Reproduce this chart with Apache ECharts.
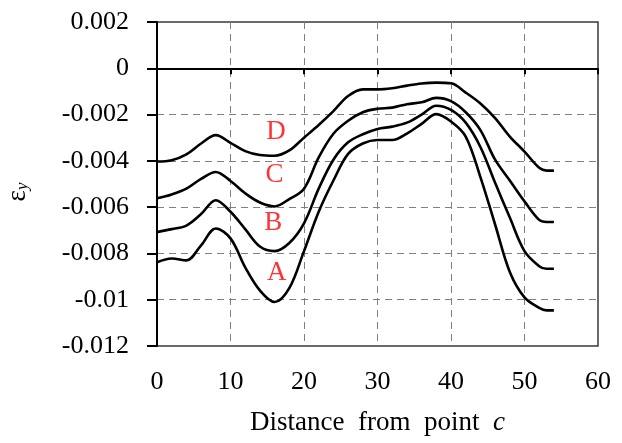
<!DOCTYPE html>
<html>
<head>
<meta charset="utf-8">
<script src="https://cdn.jsdelivr.net/npm/echarts@6/dist/echarts.min.js"></script>
<style>
  html, body { margin: 0; padding: 0; background: #fff; }
  #chart { width: 622px; height: 443px; }
</style>
</head>
<body>
<div id="chart"></div>
<script>
// Distance from point c (shared sampling positions for all four curves)
const distance = [0, 2, 4, 6, 8, 10, 12, 14, 16, 18, 20, 22, 24, 26, 28, 30, 32, 34, 36, 38, 40, 42, 44, 46, 48, 50, 52, 53, 54];

// Strain εy along each line
const strainD = [-0.00403, -0.00397, -0.00372, -0.00325, -0.00289, -0.00322, -0.00358, -0.00375, -0.00378, -0.00355, -0.00300, -0.00245, -0.00185, -0.00120, -0.00091, -0.00091, -0.00086, -0.00075, -0.00066, -0.00062, -0.00065, -0.00105, -0.00152, -0.00215, -0.00295, -0.00360, -0.00430, -0.00442, -0.00442];
const strainC = [-0.00562, -0.00545, -0.00520, -0.00478, -0.00448, -0.00487, -0.00540, -0.00580, -0.00597, -0.00565, -0.00520, -0.00385, -0.00283, -0.00227, -0.00190, -0.00175, -0.00170, -0.00155, -0.00147, -0.00128, -0.00142, -0.00190, -0.00267, -0.00395, -0.00485, -0.00575, -0.00655, -0.00664, -0.00664];
const strainB = [-0.00708, -0.00695, -0.00680, -0.00630, -0.00570, -0.00620, -0.00695, -0.00770, -0.00790, -0.00755, -0.00670, -0.00520, -0.00395, -0.00320, -0.00285, -0.00262, -0.00252, -0.00235, -0.00200, -0.00162, -0.00180, -0.00235, -0.00340, -0.00495, -0.00645, -0.00790, -0.00855, -0.00866, -0.00866];
const strainA = [-0.00838, -0.00822, -0.00830, -0.00765, -0.00692, -0.00735, -0.00860, -0.00960, -0.01010, -0.00950, -0.00790, -0.00620, -0.00485, -0.00370, -0.00325, -0.00310, -0.00310, -0.00282, -0.00240, -0.00198, -0.00230, -0.00295, -0.00470, -0.00675, -0.00880, -0.00990, -0.01035, -0.01046, -0.01046];

// Curve names and where their letters sit (data coordinates)
const curveNames = ['D', 'C', 'B', 'A'];
const labelDistance = [16.2, 16.0, 15.8, 16.3];
const labelStrain = [-0.00276, -0.00462, -0.00670, -0.00886];

// Axis ranges
const xMin = 0, xMax = 60, xStep = 10;
const yMin = -0.012, yMax = 0.002, yStep = 0.002;

const serif = 'Liberation Serif';
const curves = [strainD, strainC, strainB, strainA];

const lineSeries = curves.map((vals, i) => ({
  name: curveNames[i],
  type: 'line',
  xAxisIndex: 0,
  yAxisIndex: 0,
  data: distance.map((d, k) => [d, vals[k]]),
  showSymbol: false,
  smooth: 0.35,
  lineStyle: { color: '#000', width: 2.6 },
  z: 5
}));

const letterSeries = {
  name: 'curveLabels',
  type: 'scatter',
  data: curveNames.map((n, i) => [labelDistance[i], labelStrain[i], n]),
  symbolSize: 0,
  label: {
    show: true,
    position: 'inside',
    formatter: p => p.data[2],
    color: '#ff0000',
    fontFamily: serif,
    fontSize: 27
  },
  silent: true,
  z: 6
};

const chart = echarts.init(document.getElementById('chart'), null, { renderer: 'canvas' });
chart.setOption({
  animation: false,
  backgroundColor: '#fff',
  grid: {
    left: 157, right: 24, top: 22, bottom: 97,
    outerBoundsMode: 'none',
    containLabel: false,
    show: true,
    borderColor: '#3a3a3a',
    borderWidth: 1.5
  },
  xAxis: [
    {
      type: 'value',
      min: xMin, max: xMax, interval: xStep,
      position: 'bottom',
      name: 'Distance  from  point  {i|c}',
      nameLocation: 'middle',
      nameGap: 63,
      nameTextStyle: {
        fontFamily: serif, fontSize: 27, color: '#000',
        rich: { i: { fontFamily: serif, fontSize: 27, fontStyle: 'italic', color: '#000' } }
      },
      axisLine: { show: false, onZero: false },
      axisTick: { show: false },
      axisLabel: { fontFamily: serif, fontSize: 26, color: '#000', margin: 23 },
      splitLine: {
        show: true, showMinLine: false, showMaxLine: false,
        lineStyle: { color: '#808080', type: [7, 5], width: 1 }
      }
    },
    {
      // the zero line across the plot, with its downward ticks
      type: 'value',
      min: xMin, max: xMax, interval: xStep,
      position: 'bottom',
      axisLine: { show: true, onZero: true, lineStyle: { color: '#000', width: 2 } },
      axisTick: { show: true, inside: false, length: 6, lineStyle: { color: '#000', width: 2 } },
      axisLabel: { show: false },
      splitLine: { show: false }
    }
  ],
  yAxis: {
    type: 'value',
    min: yMin, max: yMax, interval: yStep,
    name: '{e|ε}{s|y}',
    nameLocation: 'middle',
    nameRotate: 90,
    nameGap: 126,
    nameTextStyle: {
      color: '#000',
      padding: [0, 16, 0, 0],
      rich: {
        e: { fontFamily: serif, fontSize: 27, color: '#000' },
        s: { fontFamily: serif, fontSize: 17, fontStyle: 'italic', color: '#000', padding: [10, 0, 0, 0] }
      }
    },
    axisLine: { show: true, onZero: false, lineStyle: { color: '#000', width: 2 } },
    axisTick: { show: true, inside: false, length: 10, lineStyle: { color: '#000', width: 2 } },
    axisLabel: {
      fontFamily: serif, fontSize: 26, color: '#000', margin: 28,
      formatter: v => String(+v.toFixed(3))
    },
    splitLine: {
      show: true, showMinLine: false, showMaxLine: false,
      lineStyle: { color: '#808080', type: [7, 5], width: 1 }
    }
  },
  series: [...lineSeries, letterSeries]
});
</script>
</body>
</html>
